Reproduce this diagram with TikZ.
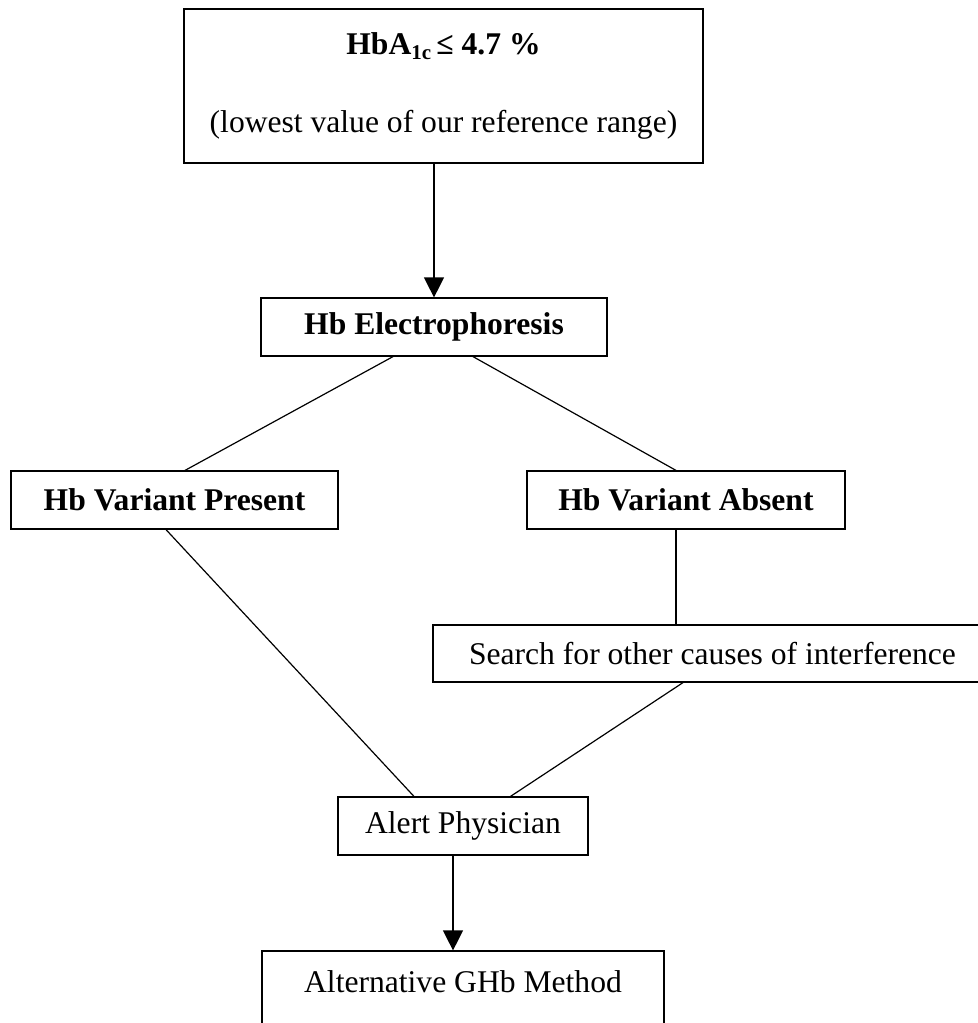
\documentclass[tikz,border=0pt]{standalone}
\usepackage{fontspec}
\setmainfont{Liberation Serif}
\usetikzlibrary{arrows.meta}
\tikzset{
  box/.style={draw, line width=0.6pt, rectangle, inner sep=0pt, font=\fontsize{15.8}{19}\selectfont},
  boldbox/.style={box, font=\fontsize{15.8}{19}\selectfont\bfseries},
  conn/.style={line width=0.6pt},
  arr/.style={line width=0.6pt, -{Triangle[length=10pt,width=10pt]}},
}
\begin{document}
\begin{tikzpicture}[x=0.5pt,y=-0.5pt]
\useasboundingbox (0,0) rectangle (978,1023);
\clip (0,0) rectangle (978,1023);
\node[box, minimum width=259.5pt, minimum height=77pt, align=center] (top) at (443.5,86)
  {\bfseries HbA\raisebox{-2.5pt}{\fontsize{10.5}{12}\selectfont 1c}\,≤ 4.7 \%\\[20pt](lowest value of our reference range)};
\node[boldbox, minimum width=173pt, minimum height=29pt] (elec) at (434,327) {Hb Electrophoresis};
\node[boldbox, minimum width=163.5pt, minimum height=29pt] (present) at (174.5,500) {Hb Variant Present};
\node[boldbox, minimum width=159pt, minimum height=29pt] (absent) at (686,500) {Hb Variant Absent};
\node[box, minimum width=279.5pt, minimum height=28.5pt] (search) at (712.5,653.5) {Search for other causes of interference};
\node[box, minimum width=125pt, minimum height=29pt] (alert) at (463,826) {Alert Physician};
\node[box, minimum width=201pt, minimum height=45pt] (alt) at (463,996) {};
\node[font=\fontsize{15.8}{19}\selectfont, inner sep=0pt] (alttext) at (463,982) {Alternative GHb Method};
\draw[arr] ([xshift=-4.75pt]top.south) -- (elec.north);
\draw[conn] ([xshift=-20.5pt]elec.south) -- ([xshift=5.25pt]present.north);
\draw[conn] ([xshift=19.5pt]elec.south) -- ([xshift=-5pt]absent.north);
\draw[conn] ([xshift=-4.25pt]present.south) -- ([xshift=-24.5pt]alert.north);
\draw[conn] ([xshift=-5pt]absent.south) -- ([xshift=-5pt]absent.south |- search.north);
\draw[conn] ([xshift=-14.75pt]search.south) -- ([xshift=23.75pt]alert.north);
\draw[arr] ([xshift=-5pt]alert.south) -- ([xshift=-5pt]alt.north);
\end{tikzpicture}
\end{document}
